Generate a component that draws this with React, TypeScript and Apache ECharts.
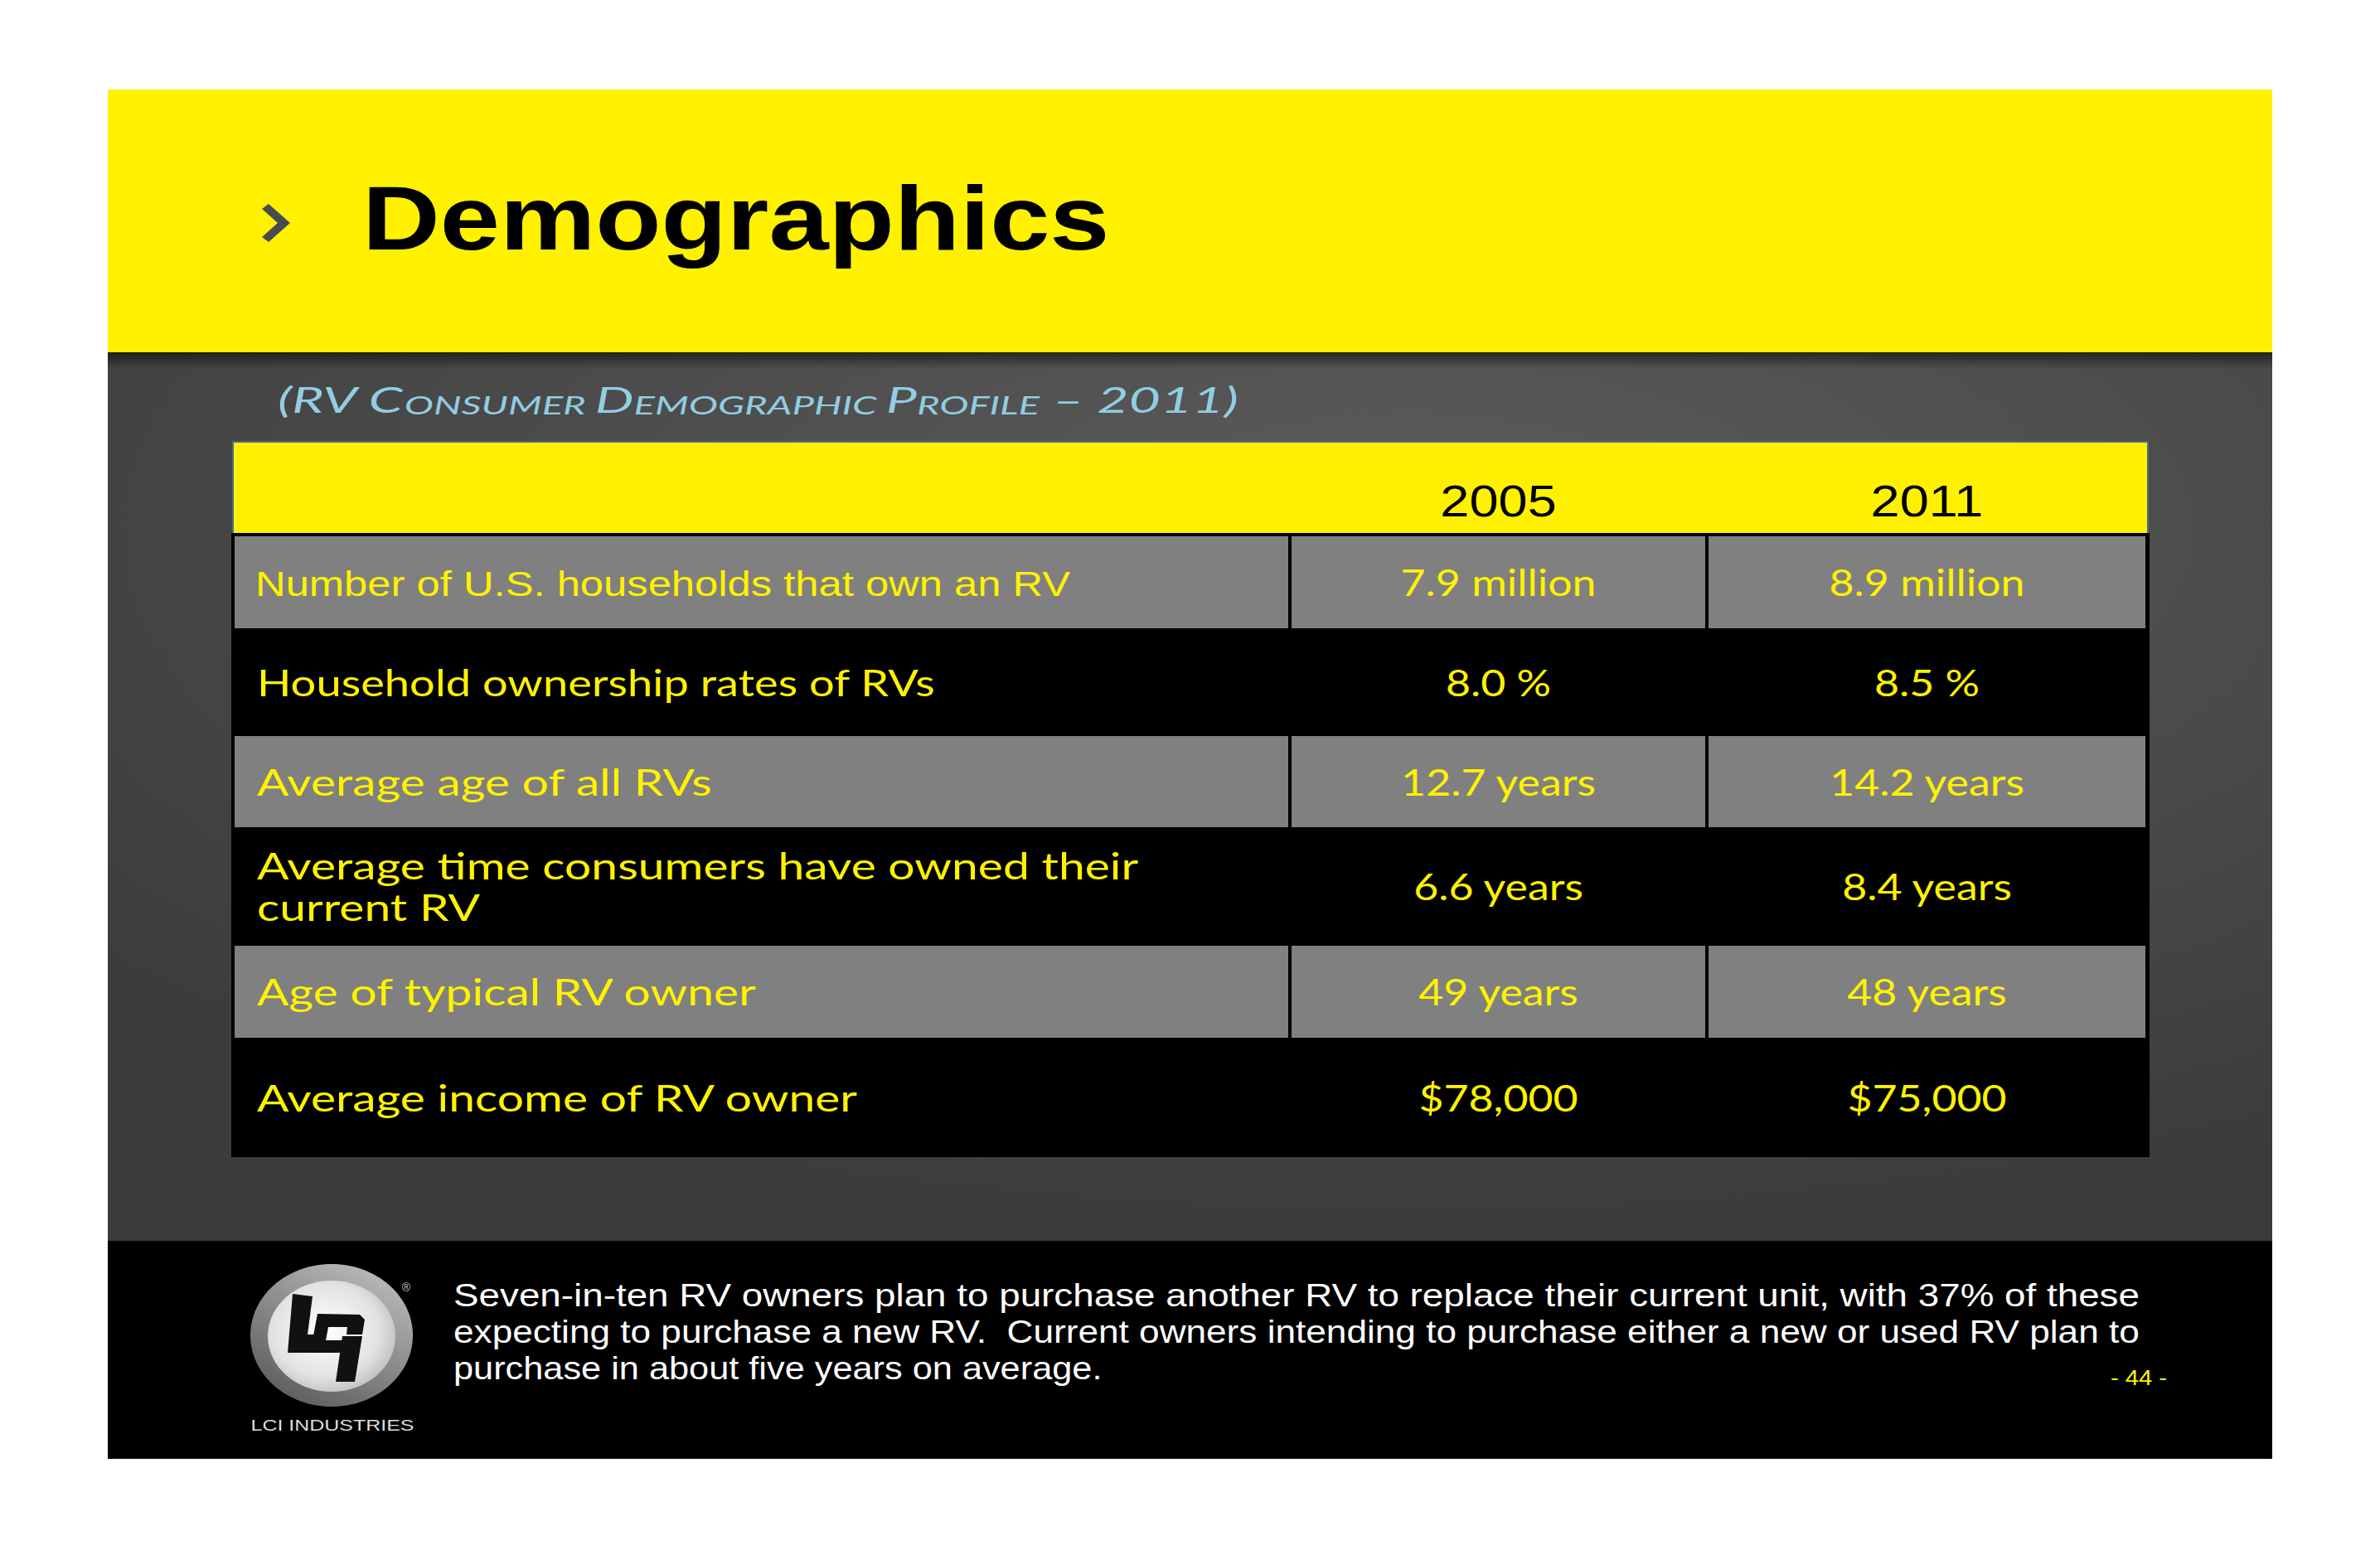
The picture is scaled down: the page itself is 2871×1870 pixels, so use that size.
import React, { useEffect, useRef } from "react";
import * as echarts from "echarts";

// ---------- content ----------
const titleText = "Demographics";
const subtitleTokens: [string, "b" | "s"][] = [
  ["(RV C", "b"],
  ["ONSUMER ", "s"],
  ["D", "b"],
  ["EMOGRAPHIC ", "s"],
  ["P", "b"],
  ["ROFILE", "s"],
  [" – 2011)", "b"],
];
const yearHeaders = ["2005", "2011"];
const rowLabels = [
  "Number of U.S. households that own an RV",
  "Household ownership rates of RVs",
  "Average age of all RVs",
  "Average time consumers have owned their\ncurrent RV",
  "Age of typical RV owner",
  "Average income of RV owner",
];
const values2005 = ["7.9 million", "8.0 %", "12.7 years", "6.6 years", "49 years", "$78,000"];
const values2011 = ["8.9 million", "8.5 %", "14.2 years", "8.4 years", "48 years", "$75,000"];
const footerLines = [
  "Seven-in-ten RV owners plan to purchase another RV to replace their current unit, with 37% of these",
  "expecting to purchase a new RV.  Current owners intending to purchase either a new or used RV plan to",
  "purchase in about five years on average.",
];
const pageLabel = "- 44 -";
const logoLabel = "LCI INDUSTRIES";

// ---------- layout / style ----------
const W = 2871;
const H = 1870;
const SLIDE = { x: 130, y: 108, r: 2741, b: 1760 };
const YELLOW_BOTTOM = 425;
const FOOT_TOP = 1497;
const HEAD = { x: 281, r: 2591, t: 533, b: 643 };
const colEdges = [281, 1556, 2059, 2590];
const rowEdges = [645, 760, 886, 1000, 1139, 1254, 1394];
const arialRows = [0];
const STRETCH = 1.17;
const YELLOW = "#FFF100";
const TEXT_YELLOW = "#FFF200";
const GRAY = "#808080";
const ARIAL = "Liberation Sans";
const GOTHIC = "Lato";

export default function App() {
  const ref = useRef<HTMLDivElement>(null);
  useEffect(() => {
    document.body.style.margin = "0";
    const chart = echarts.init(ref.current!, null, { renderer: "svg" });
    const cv = document.createElement("canvas");
    const ctx = cv.getContext("2d")!;
    const measure = (t: string, size: number, fam: string, weight = "normal", style = "normal") => {
      ctx.font = `${style} ${weight} ${size}px "${fam}"`;
      return ctx.measureText(t).width;
    };

    // calibrate the Century-Gothic substitute to the reference's widths
    const gothicSize = 44;
    const baseSX = 819 / measure(rowLabels[1], gothicSize, GOTHIC);
    const labelSX = baseSX * 1.05;
    const valueSX = baseSX * 0.955;

    const els: any[] = [];
    const txt = (text: string, x: number, y: number, o: any) => {
      const align = o.align ?? "left";
      const va = o.va ?? "middle";
      els.push({
        type: "text",
        x,
        y,
        scaleX: o.sx ?? 1,
        z: 10,
        silent: true,
        style: {
          text,
          fill: o.fill,
          fontSize: o.size,
          fontFamily: o.family,
          fontWeight: o.weight ?? "normal",
          fontStyle: o.fstyle ?? "normal",
          align,
          verticalAlign: va,
          textAlign: align,
          textVerticalAlign: va,
          lineHeight: o.lh,
          rich: o.rich,
        },
      });
    };
    const rect = (x: number, y: number, w: number, h: number, fill: any, z = 1) =>
      els.push({ type: "rect", shape: { x, y, width: w, height: h }, style: { fill }, z, silent: true });

    // slide background pieces
    rect(SLIDE.x, SLIDE.y, SLIDE.r - SLIDE.x, YELLOW_BOTTOM - SLIDE.y, YELLOW);
    rect(SLIDE.x, YELLOW_BOTTOM, SLIDE.r - SLIDE.x, FOOT_TOP - YELLOW_BOTTOM, {
      type: "radial",
      x: 0.6,
      y: 0.2,
      r: 0.8,
      colorStops: [
        { offset: 0, color: "#5c5c5c" },
        { offset: 1, color: "#3b3b3b" },
      ],
    });
    rect(SLIDE.x, YELLOW_BOTTOM, SLIDE.r - SLIDE.x, 20, {
      type: "linear",
      x: 0,
      y: 0,
      x2: 0,
      y2: 1,
      colorStops: [
        { offset: 0, color: "rgba(0,0,0,0.55)" },
        { offset: 1, color: "rgba(0,0,0,0)" },
      ],
    }, 2);
    rect(SLIDE.x, FOOT_TOP, SLIDE.r - SLIDE.x, SLIDE.b - FOOT_TOP, "#000000");

    // chevron
    els.push({
      type: "polygon",
      shape: { points: [[316, 252], [324, 246], [350, 269], [324, 292], [316, 286], [335, 269]] },
      style: { fill: "#474c52" },
      z: 3,
    });

    // title
    txt(titleText, 437, 263, { size: 110, family: ARIAL, weight: "bold", fill: "#000000", sx: 1.18 });

    // subtitle (small caps)
    const bigS = 42;
    const smallS = 30;
    let subW = 0;
    subtitleTokens.forEach(([t, k]) => {
      subW += measure(t, k === "b" ? bigS : smallS, GOTHIC, "normal", "italic");
    });
    const subSX = 1159 / subW;
    const subColor = "#92cde2";
    txt(
      subtitleTokens.map(([t, k]) => `{${k}|${t}}`).join(""),
      335,
      478,
      {
        size: bigS,
        family: GOTHIC,
        fstyle: "italic",
        fill: subColor,
        sx: subSX,
        rich: {
          b: { fontSize: bigS, fontFamily: GOTHIC, fontStyle: "italic", fill: subColor, verticalAlign: "bottom", lineHeight: 50 },
          s: { fontSize: smallS, fontFamily: GOTHIC, fontStyle: "italic", fill: subColor, verticalAlign: "bottom", lineHeight: 50 },
        },
      }
    );

    // table
    rect(HEAD.x - 2, HEAD.b, HEAD.r - HEAD.x + 4, rowEdges[rowEdges.length - 1] - HEAD.b + 2, "#000000", 2);
    rect(HEAD.x, HEAD.t, HEAD.r - HEAD.x, HEAD.b - HEAD.t, YELLOW, 3);
    els.push({
      type: "polyline",
      shape: { points: [[HEAD.x, HEAD.b], [HEAD.x, HEAD.t], [HEAD.r, HEAD.t], [HEAD.r, HEAD.b]] },
      style: { stroke: "#4d6a88", lineWidth: 2, fill: null },
      z: 4,
    });
    yearHeaders.forEach((yh, i) => {
      const cx = (colEdges[i + 1] + colEdges[i + 2]) / 2;
      txt(yh, cx, 604, { size: 54, family: ARIAL, fill: "#000000", align: "center", sx: STRETCH });
    });

    rowLabels.forEach((lab, r) => {
      const y0 = rowEdges[r];
      const y1 = rowEdges[r + 1];
      const cy = (y0 + y1) / 2;
      if (r % 2 === 0) {
        for (let c = 0; c < 3; c++) {
          rect(colEdges[c] + 2, y0 + 2, colEdges[c + 1] - colEdges[c] - 4, y1 - y0 - 4, GRAY, 3);
        }
      }
      if (arialRows.includes(r)) {
        txt(lab, 308, cy + 1, { size: 43, family: ARIAL, fill: TEXT_YELLOW, sx: 1.18 });
      } else {
        const sx = r === 1 ? baseSX : labelSX;
        txt(lab, 310, cy, { size: gothicSize, family: GOTHIC, fill: TEXT_YELLOW, sx, lh: 50 });
      }
      [values2005[r], values2011[r]].forEach((v, i) => {
        const cx = (colEdges[i + 1] + colEdges[i + 2]) / 2;
        txt(v, cx, cy, { size: gothicSize, family: GOTHIC, fill: TEXT_YELLOW, align: "center", sx: valueSX });
      });
    });

    // footer text
    const footSize = 38;
    const fl = 549;
    const fr = 2583;
    footerLines.forEach((line, i) => {
      const sx = i < footerLines.length - 1 ? (fr - fl) / measure(line, footSize, ARIAL) : 1.14;
      txt(line, fl - 2, 1563 + i * 44, { size: footSize, family: ARIAL, fill: "#ffffff", sx });
    });
    txt(pageLabel, 2580, 1662, { size: 25, family: ARIAL, fill: TEXT_YELLOW, align: "center", sx: STRETCH });

    // logo
    els.push({
      type: "ellipse",
      shape: { cx: 400, cy: 1611, rx: 98, ry: 86 },
      style: {
        fill: {
          type: "linear",
          x: 0.8,
          y: 0,
          x2: 0.2,
          y2: 1,
          colorStops: [
            { offset: 0, color: "#bdbdbd" },
            { offset: 0.5, color: "#8a8a8a" },
            { offset: 1, color: "#5a5a5a" },
          ],
        },
      },
      z: 3,
    });
    els.push({
      type: "ellipse",
      shape: { cx: 400, cy: 1612, rx: 77, ry: 67 },
      style: {
        fill: {
          type: "radial",
          x: 0.45,
          y: 0.45,
          r: 0.7,
          colorStops: [
            { offset: 0, color: "#ffffff" },
            { offset: 0.6, color: "#e2e2e2" },
            { offset: 1, color: "#a8a8a8" },
          ],
        },
      },
      z: 4,
    });
    const logoBlack = "#111111";
    const logoPolys = [
      [[353, 1561], [377, 1564], [371, 1610], [392, 1610], [390, 1632], [347, 1632]],
      [[383, 1585], [434, 1586], [440, 1592], [437, 1610], [418, 1610], [419, 1601], [396, 1601], [393, 1617], [416, 1617], [414, 1632], [380, 1632], [376, 1622]],
      [[413, 1612], [437, 1612], [428, 1667], [405, 1667]],
    ];
    logoPolys.forEach((pts) =>
      els.push({ type: "polygon", shape: { points: pts }, style: { fill: logoBlack }, z: 5 })
    );
    txt("®", 490, 1553, { size: 14, family: ARIAL, fill: "#cccccc", align: "center" });
    const logoSX = 197 / measure(logoLabel, 19, ARIAL);
    txt(logoLabel, 401, 1720, { size: 19, family: ARIAL, fill: "#dddddd", align: "center", sx: logoSX });

    chart.setOption({ animation: false, graphic: { elements: els } });
    return () => chart.dispose();
  }, []);
  return <div ref={ref} style={{ width: W, height: H, background: "#ffffff" }} />;
}
